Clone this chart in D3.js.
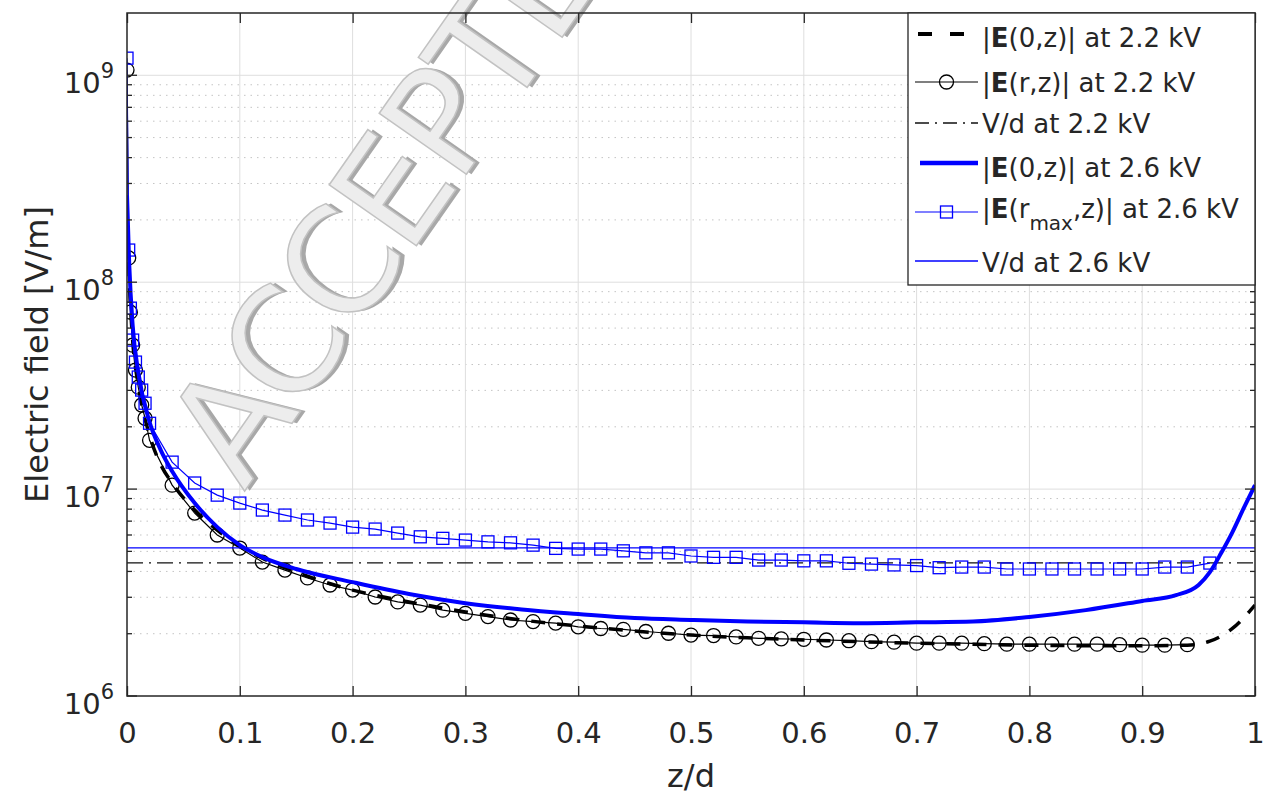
<!DOCTYPE html>
<html>
<head>
<meta charset="utf-8">
<script src="https://d3js.org/d3.v7.min.js"></script>
<style>
body { margin: 0; background: #fff; }
text { font-family: "DejaVu Sans", sans-serif; fill: #262626; }
.grid-major { stroke: #dedede; stroke-width: 1; }
.grid-minor { stroke: #c4c4c4; stroke-width: 1; stroke-dasharray: 1.5,5; }
</style>
</head>
<body>
<svg id="chart" width="1265" height="799"></svg>
<script>

// marker positions (z/d) shared by |E(r,z)| and |E(rmax,z)|
var zMarker = [0, 0.0015, 0.003, 0.005, 0.0075, 0.01, 0.013, 0.016, 0.02,
  0.04, 0.06, 0.08, 0.10, 0.12, 0.14, 0.16, 0.18, 0.20, 0.22, 0.24,
  0.26, 0.28, 0.30, 0.32, 0.34, 0.36, 0.38, 0.40,
  0.42, 0.44, 0.46, 0.48, 0.50, 0.52, 0.54, 0.56, 0.58, 0.60,
  0.62, 0.64, 0.66, 0.68, 0.70, 0.72, 0.74, 0.76, 0.78, 0.80,
  0.82, 0.84, 0.86, 0.88, 0.90, 0.92, 0.94, 0.96];

// |E(r,z)| at 2.2 kV (circles, ends at 0.94)
var eR22 = [1.06e9, 1.31e8, 7.16e7, 4.96e7, 3.76e7, 3.11e7, 2.55e7, 2.20e7, 1.72e7,
  1.045e7, 7.66e6, 6.0e6, 5.19e6, 4.44e6, 4.06e6, 3.72e6, 3.44e6, 3.25e6, 3.01e6, 2.85e6,
  2.75e6, 2.60e6, 2.51e6, 2.42e6, 2.33e6, 2.29e6, 2.25e6, 2.16e6,
  2.12e6, 2.10e6, 2.05e6, 2.01e6, 1.97e6, 1.96e6, 1.93e6, 1.90e6, 1.89e6, 1.88e6,
  1.865e6, 1.85e6, 1.83e6, 1.82e6, 1.80e6, 1.80e6, 1.80e6, 1.79e6, 1.78e6, 1.78e6,
  1.78e6, 1.78e6, 1.78e6, 1.77e6, 1.76e6, 1.76e6, 1.77e6];

// |E(rmax,z)| at 2.6 kV (squares)
var eRmax26 = [1.21e9, 1.43e8, 7.49e7, 5.25e7, 4.11e7, 3.48e7, 3.01e7, 2.60e7, 2.08e7,
  1.35e7, 1.07e7, 9.35e6, 8.56e6, 7.92e6, 7.49e6, 7.09e6, 6.85e6, 6.55e6, 6.41e6, 6.13e6,
  5.88e6, 5.78e6, 5.67e6, 5.56e6, 5.50e6, 5.36e6, 5.17e6, 5.13e6,
  5.13e6, 5.03e6, 4.92e6, 4.92e6, 4.75e6, 4.68e6, 4.68e6, 4.54e6, 4.54e6, 4.50e6,
  4.50e6, 4.38e6, 4.34e6, 4.30e6, 4.27e6, 4.17e6, 4.20e6, 4.20e6, 4.11e6, 4.11e6,
  4.11e6, 4.11e6, 4.11e6, 4.11e6, 4.11e6, 4.20e6, 4.20e6, 4.39e6];

// |E(0,z)| at 2.2 kV (thick dashed)
var zAxis22 = [0, 0.002, 0.005, 0.01, 0.02, 0.03, 0.04, 0.06, 0.08, 0.10,
  0.12, 0.15, 0.20, 0.25, 0.30, 0.35, 0.40, 0.45, 0.50, 0.55,
  0.60, 0.65, 0.70, 0.75, 0.80, 0.85, 0.90, 0.94, 0.96, 0.98, 1.0];
var eAxis22 = [2.23e8, 1.02e8, 5.25e7, 3.18e7, 1.82e7, 1.31e7, 1.07e7, 7.92e6, 6.34e6, 5.30e6,
  4.64e6, 3.97e6, 3.25e6, 2.85e6, 2.55e6, 2.33e6, 2.18e6, 2.06e6, 1.97e6, 1.91e6,
  1.865e6, 1.83e6, 1.80e6, 1.78e6, 1.76e6, 1.75e6, 1.75e6, 1.76e6, 1.84e6, 2.12e6, 2.75e6];

// |E(0,z)| at 2.6 kV (thick solid blue)
var zAxis26 = [0, 0.002, 0.005, 0.01, 0.02, 0.03, 0.04, 0.06, 0.08, 0.10,
  0.12, 0.15, 0.20, 0.25, 0.30, 0.35, 0.40, 0.45, 0.50, 0.55,
  0.60, 0.65, 0.70, 0.75, 0.80, 0.85, 0.90,
  0.93, 0.95, 0.96, 0.97, 0.98, 0.99, 1.0];
var eAxis26 = [2.63e8, 1.21e8, 6.20e7, 3.67e7, 2.11e7, 1.54e7, 1.22e7, 8.56e6, 6.55e6, 5.36e6,
  4.69e6, 4.11e6, 3.55e6, 3.11e6, 2.81e6, 2.62e6, 2.49e6, 2.38e6, 2.33e6, 2.29e6,
  2.27e6, 2.25e6, 2.27e6, 2.29e6, 2.41e6, 2.60e6, 2.88e6,
  3.07e6, 3.44e6, 3.97e6, 4.91e6, 6.20e6, 8.09e6, 1.045e7];

// V/d reference levels
var vd22 = 4.4e6;
var vd26 = 5.2e6;

var xTicks = [0, 0.1, 0.2, 0.3, 0.4, 0.5, 0.6, 0.7, 0.8, 0.9, 1];
var xTickLabels = ["0", "0.1", "0.2", "0.3", "0.4", "0.5", "0.6", "0.7", "0.8", "0.9", "1"];
var yDecades = [1e6, 1e7, 1e8, 1e9];
var yExponents = ["6", "7", "8", "9"];

var legendLabels = ["|E(0,z)| at 2.2 kV", "|E(r,z)| at 2.2 kV", "V/d at 2.2 kV",
  "|E(0,z)| at 2.6 kV", "|E(rmax,z)| at 2.6 kV", "V/d at 2.6 kV"];

var pL = 127, pR = 1255, pT = 13, pB = 696;
var blue = "#0000ff";

var svg = d3.select("#chart");

var x = d3.scaleLinear().domain([0, 1]).range([pL, pR]);
var y = d3.scaleLog().domain([1e6, 2e9]).range([pB, pT]);

// minor y values 2..9 per decade
var yMinor = [];
yDecades.forEach(function(d) {
  for (var k = 2; k <= 9; k++) {
    if (d * k < 2e9) yMinor.push(d * k);
  }
});

// Grid
svg.append("g").selectAll("line").data(yMinor).enter().append("line")
  .attr("class", "grid-minor")
  .attr("x1", pL).attr("x2", pR)
  .attr("y1", function(d) { return y(d); }).attr("y2", function(d) { return y(d); });

svg.append("g").selectAll("line").data(xTicks.slice(1, -1)).enter().append("line")
  .attr("class", "grid-major")
  .attr("x1", function(d) { return x(d); }).attr("x2", function(d) { return x(d); })
  .attr("y1", pT).attr("y2", pB);

svg.append("g").selectAll("line").data(yDecades.slice(1)).enter().append("line")
  .attr("class", "grid-major")
  .attr("x1", pL).attr("x2", pR)
  .attr("y1", function(d) { return y(d); }).attr("y2", function(d) { return y(d); });

// Watermark
var wm = svg.append("g").attr("transform", "translate(244,492) rotate(-55)");
wm.append("text").attr("x", 3).attr("y", 4)
  .style("font-size", "146px").style("letter-spacing", "-5px").style("fill", "#a8a8a8")
  .text("ACCEPTED MANUSCRIPT");
wm.append("text")
  .style("font-size", "146px").style("letter-spacing", "-5px").style("fill", "#ededed")
  .style("stroke", "#c2c2c2").style("stroke-width", 1.5)
  .text("ACCEPTED MANUSCRIPT");

// Clip
svg.append("clipPath").attr("id", "plotclip").append("rect")
  .attr("x", pL).attr("y", pT).attr("width", pR - pL).attr("height", pB - pT);
var plot = svg.append("g").attr("clip-path", "url(#plotclip)");

var smooth = d3.line().curve(d3.curveMonotoneX)
  .x(function(d) { return x(d[0]); }).y(function(d) { return y(d[1]); });
var straight = d3.line()
  .x(function(d) { return x(d[0]); }).y(function(d) { return y(d[1]); });

var axis22 = zAxis22.map(function(z, i) { return [z, eAxis22[i]]; });
var axis26 = zAxis26.map(function(z, i) { return [z, eAxis26[i]]; });
var circ22 = eR22.map(function(e, i) { return [zMarker[i], e]; });
var sq26 = eRmax26.map(function(e, i) { return [zMarker[i], e]; });

// |E(0,z)| 2.2 kV
plot.append("path").datum(axis22).attr("d", smooth)
  .attr("fill", "none").attr("stroke", "#000").attr("stroke-width", 3.5)
  .attr("stroke-dasharray", "14,12");

// |E(r,z)| 2.2 kV
plot.append("path").datum(circ22).attr("d", straight)
  .attr("fill", "none").attr("stroke", "#000").attr("stroke-width", 1.2);
plot.append("g").selectAll("circle").data(circ22).enter().append("circle")
  .attr("cx", function(d) { return x(d[0]); })
  .attr("cy", function(d) { return y(d[1]); })
  .attr("r", 7).attr("fill", "none").attr("stroke", "#000").attr("stroke-width", 1.3);

// V/d 2.2 kV
plot.append("line").attr("x1", x(0)).attr("x2", x(1))
  .attr("y1", y(vd22)).attr("y2", y(vd22))
  .attr("stroke", "#111").attr("stroke-width", 1.4).attr("stroke-dasharray", "16,6,2,6");

// |E(0,z)| 2.6 kV
plot.append("path").datum(axis26).attr("d", smooth)
  .attr("fill", "none").attr("stroke", blue).attr("stroke-width", 4);

// |E(rmax,z)| 2.6 kV
plot.append("path").datum(sq26).attr("d", straight)
  .attr("fill", "none").attr("stroke", blue).attr("stroke-width", 1.2);
plot.append("g").selectAll("rect").data(sq26).enter().append("rect")
  .attr("x", function(d) { return x(d[0]) - 6; })
  .attr("y", function(d) { return y(d[1]) - 6; })
  .attr("width", 12).attr("height", 12)
  .attr("fill", "none").attr("stroke", blue).attr("stroke-width", 1.3);

// V/d 2.6 kV
plot.append("line").attr("x1", x(0)).attr("x2", x(1))
  .attr("y1", y(vd26)).attr("y2", y(vd26))
  .attr("stroke", blue).attr("stroke-width", 1.4);

// Axes box and ticks
var axisColor = "#262626";
svg.append("rect").attr("x", pL).attr("y", pT)
  .attr("width", pR - pL).attr("height", pB - pT)
  .attr("fill", "none").attr("stroke", axisColor).attr("stroke-width", 1.5);

var xb = svg.append("g").attr("transform", "translate(0," + pB + ")")
  .call(d3.axisBottom(x).tickValues(xTicks).tickSizeInner(-10).tickSizeOuter(0)
    .tickFormat(function(d, i) { return xTickLabels[i]; }));
xb.select(".domain").remove();
xb.selectAll(".tick line").attr("stroke", axisColor).attr("stroke-width", 1.3);
xb.selectAll(".tick text").attr("font-family", null).style("font-size", "29px")
  .attr("fill", null).attr("dy", null).attr("y", 47);
xb.attr("font-family", null).attr("font-size", null);

var xt = svg.append("g").attr("transform", "translate(0," + pT + ")")
  .call(d3.axisTop(x).tickValues(xTicks).tickSizeInner(-10).tickSizeOuter(0).tickFormat(""));
xt.select(".domain").remove();
xt.selectAll(".tick line").attr("stroke", axisColor).attr("stroke-width", 1.3);

function yTickLines(g, values, size, flip) {
  g.selectAll("line").data(values).enter().append("line")
    .attr("x1", 0).attr("x2", flip ? -size : size)
    .attr("y1", function(d) { return y(d); }).attr("y2", function(d) { return y(d); })
    .attr("stroke", axisColor).attr("stroke-width", 1.3);
}
var yl = svg.append("g").attr("transform", "translate(" + pL + ",0)");
yTickLines(yl.append("g"), yDecades, 10, false);
yTickLines(yl.append("g"), yMinor, 5, false);
var yr = svg.append("g").attr("transform", "translate(" + pR + ",0)");
yTickLines(yr.append("g"), yDecades, 10, true);
yTickLines(yr.append("g"), yMinor, 5, true);

// y tick labels 10^n
var ylab = svg.append("g").selectAll("text").data(yDecades).enter().append("text")
  .attr("x", pL - 13)
  .attr("y", function(d) { return y(d) + 18; })
  .attr("text-anchor", "end")
  .style("font-size", "29px");
ylab.append("tspan").text("10");
ylab.append("tspan").attr("dy", -15).style("font-size", "21px")
  .text(function(d, i) { return yExponents[i]; });

// Axis labels
svg.append("text").attr("x", (pL + pR) / 2).attr("y", 787)
  .attr("text-anchor", "middle").style("font-size", "32px").text("z/d");
svg.append("text")
  .attr("transform", "translate(48," + ((pT + pB) / 2) + ") rotate(-90)")
  .attr("text-anchor", "middle").style("font-size", "32px").text("Electric field [V/m]");

// Legend
var leg = svg.append("g");
leg.append("rect").attr("x", 908).attr("y", pT).attr("width", pR - 908).attr("height", 285 - pT)
  .attr("fill", "#fff").attr("stroke", axisColor).attr("stroke-width", 1.3);

var legBase = [47, 92, 133, 177, 218, 272];
var legLineY = [34, 82, 123, 163, 212, 261];
var sx1 = 915, sx2 = 978, tx = 982;

// row 1: thick dashed black
leg.append("line").attr("x1", 918).attr("x2", 966).attr("y1", legLineY[0]).attr("y2", legLineY[0])
  .attr("stroke", "#000").attr("stroke-width", 4).attr("stroke-dasharray", "14,18");
// row 2: black line + circle
leg.append("line").attr("x1", sx1).attr("x2", sx2).attr("y1", legLineY[1]).attr("y2", legLineY[1])
  .attr("stroke", "#000").attr("stroke-width", 1.2);
leg.append("circle").attr("cx", (sx1 + sx2) / 2).attr("cy", legLineY[1]).attr("r", 7)
  .attr("fill", "none").attr("stroke", "#000").attr("stroke-width", 1.3);
// row 3: dash-dot
leg.append("line").attr("x1", sx1).attr("x2", sx2).attr("y1", legLineY[2]).attr("y2", legLineY[2])
  .attr("stroke", "#111").attr("stroke-width", 1.4).attr("stroke-dasharray", "14,6,2,6");
// row 4: thick blue
leg.append("line").attr("x1", 920).attr("x2", sx2).attr("y1", legLineY[3]).attr("y2", legLineY[3])
  .attr("stroke", blue).attr("stroke-width", 4.5);
// row 5: blue line + square
leg.append("line").attr("x1", sx1).attr("x2", sx2).attr("y1", legLineY[4]).attr("y2", legLineY[4])
  .attr("stroke", blue).attr("stroke-width", 1.2);
leg.append("rect").attr("x", (sx1 + sx2) / 2 - 6).attr("y", legLineY[4] - 6).attr("width", 12).attr("height", 12)
  .attr("fill", "none").attr("stroke", blue).attr("stroke-width", 1.3);
// row 6: thin blue
leg.append("line").attr("x1", sx1).attr("x2", sx2).attr("y1", legLineY[5]).attr("y2", legLineY[5])
  .attr("stroke", blue).attr("stroke-width", 1.4);

legendLabels.forEach(function(label, i) {
  var t = leg.append("text").attr("x", tx).attr("y", legBase[i]).style("font-size", "26px");
  var m = label.match(/^\|E\((.*?)\)\|(.*)$/);
  if (!m) { t.text(label); return; }
  t.append("tspan").text("|");
  t.append("tspan").style("font-weight", "bold").text("E");
  if (m[1].indexOf("rmax") === 0) {
    t.append("tspan").text("(r");
    t.append("tspan").attr("dy", 12).style("font-size", "20px").text("max");
    t.append("tspan").attr("dy", -12).text(m[1].slice(4) + ")|" + m[2]);
  } else {
    t.append("tspan").text("(" + m[1] + ")|" + m[2]);
  }
});

</script>
</body>
</html>
